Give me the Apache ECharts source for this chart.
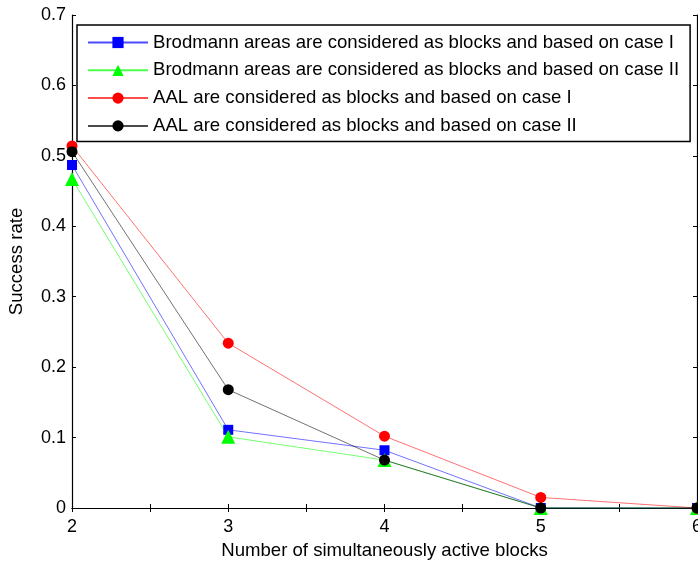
<!DOCTYPE html>
<html>
<head>
  <meta charset="utf-8">
  <title>Success rate</title>
  <script src="https://cdn.jsdelivr.net/npm/echarts@6/dist/echarts.min.js"></script>
  <style>
    html, body { margin: 0; padding: 0; background: #fff; }
    #chart { width: 698px; height: 561px; }
  </style>
</head>
<body>
  <div id="chart"></div>
  <script>
    // values
    const blocks = [2, 3, 4, 5, 6];
    const brodmannCaseI = [0.487, 0.111, 0.082, 0, 0];
    const brodmannCaseII = [0.467, 0.101, 0.068, 0, 0];
    const aalCaseI = [0.514, 0.234, 0.102, 0.015, 0];
    const aalCaseII = [0.506, 0.168, 0.068, 0, 0];
    const seriesNames = [
      'Brodmann areas are considered as blocks and based on case I',
      'Brodmann areas are considered as blocks and based on case II',
      'AAL are considered as blocks and based on case I',
      'AAL are considered as blocks and based on case II'
    ];

    const font = 'Liberation Sans, Arial, sans-serif';

    function pairs(vals) {
      return blocks.map(function (b, i) { return [b, vals[i]]; });
    }

    function line(name, vals, color, symbol, size) {
      return {
        name: name,
        type: 'line',
        data: pairs(vals),
        symbol: symbol,
        symbolSize: size,
        lineStyle: { color: color, width: 0.8, opacity: 0.7 },
        itemStyle: { color: color },
        animation: false
      };
    }

    const chart = echarts.init(document.getElementById('chart'));
    chart.setOption({
      backgroundColor: '#fff',
      grid: { left: 72, right: 1, top: 15, bottom: 53, outerBoundsMode: 'none' },
      legend: {
        orient: 'vertical',
        left: 77,
        top: 25,
        width: 616,
        padding: [7, 11, 5, 10],
        itemWidth: 60,
        itemHeight: 14,
        itemGap: 6.8,
        backgroundColor: '#fff',
        borderColor: '#000',
        borderWidth: 1.5,
        textStyle: { fontFamily: font, fontSize: 18.6, lineHeight: 21, color: '#000' },
        data: seriesNames
      },
      xAxis: [{
        type: 'value',
        min: 2,
        max: 6,
        interval: 0.5,
        name: 'Number of simultaneously active blocks',
        nameLocation: 'middle',
        nameGap: 32,
        nameTextStyle: { fontFamily: font, fontSize: 18.6, color: '#000' },
        axisLine: { lineStyle: { color: '#000', width: 1.2 } },
        axisTick: { inside: true, length: 4, lineStyle: { color: '#000' } },
        axisLabel: {
          fontFamily: font, fontSize: 18, color: '#000', margin: 10,
          formatter: function (v) { return v % 1 === 0 ? String(v) : ''; }
        },
        splitLine: { show: false }
      }, {
        type: 'value',
        position: 'top',
        min: 2,
        max: 6,
        interval: 0.5,
        axisLine: { lineStyle: { color: '#000', width: 1.2 } },
        axisTick: { inside: true, length: 4, lineStyle: { color: '#000' } },
        axisLabel: { show: false },
        splitLine: { show: false }
      }],
      yAxis: [{
        type: 'value',
        min: 0,
        max: 0.7,
        interval: 0.1,
        name: 'Success rate',
        nameLocation: 'middle',
        nameGap: 46,
        nameTextStyle: { fontFamily: font, fontSize: 18.6, color: '#000' },
        axisLine: { show: true, lineStyle: { color: '#000', width: 1.2 } },
        axisTick: { show: true, inside: true, length: 4, lineStyle: { color: '#000' } },
        axisLabel: {
          fontFamily: font, fontSize: 18, color: '#000', margin: 6,
          formatter: function (v) { return v === 0 ? '0' : v.toFixed(1); }
        },
        splitLine: { show: false }
      }, {
        type: 'value',
        position: 'right',
        min: 0,
        max: 0.7,
        interval: 0.1,
        axisLine: { show: true, lineStyle: { color: '#000', width: 1.2 } },
        axisTick: { show: true, inside: true, length: 4, lineStyle: { color: '#000' } },
        axisLabel: { show: false },
        splitLine: { show: false }
      }],
      series: [
        line(seriesNames[0], brodmannCaseI, '#0000ff', 'rect', 10),
        line(seriesNames[1], brodmannCaseII, '#00ff00', 'triangle', 14),
        line(seriesNames[2], aalCaseI, '#ff0000', 'circle', 11),
        line(seriesNames[3], aalCaseII, '#000000', 'circle', 11)
      ]
    });
  </script>
</body>
</html>
